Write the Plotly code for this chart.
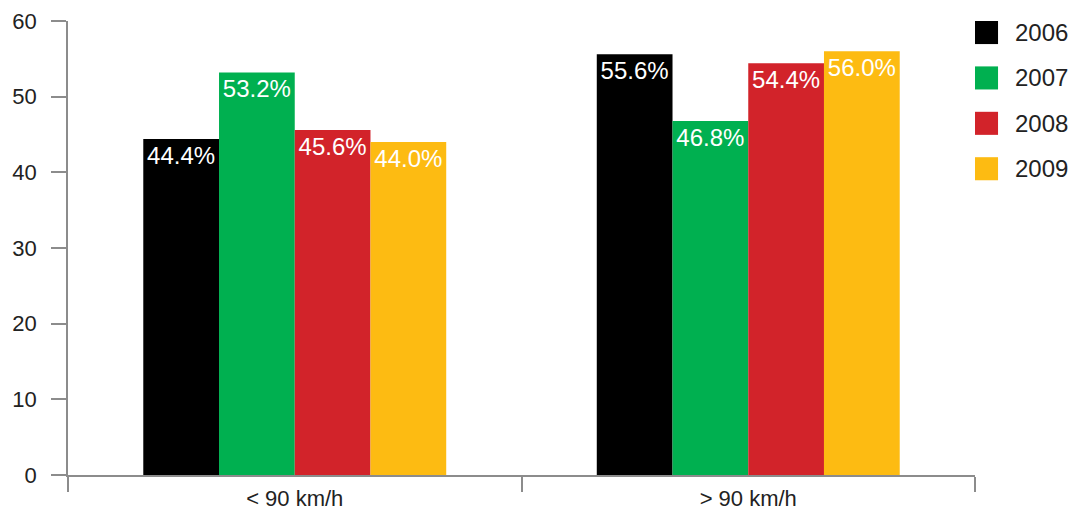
import plotly.graph_objects as go

# Share of trips by speed band, per year
categories = ["< 90 km/h", "> 90 km/h"]
years = ["2006", "2007", "2008", "2009"]
values = {
    "2006": [44.4, 55.6],
    "2007": [53.2, 46.8],
    "2008": [45.6, 54.4],
    "2009": [44.0, 56.0],
}
colors = {
    "2006": "#000000",
    "2007": "#00b050",
    "2008": "#d2232a",
    "2009": "#fdbb12",
}
y_ticks = [0, 10, 20, 30, 40, 50, 60]

FONT = "Liberation Sans"
AXIS = "#8c8c8c"
TEXT = "#222222"

fig = go.Figure()
for yr in years:
    fig.add_trace(go.Bar(
        x=categories,
        y=values[yr],
        name=yr,
        marker=dict(color=colors[yr], line=dict(width=0)),
        text=[f"{v:.1f}%" for v in values[yr]],
        textposition="inside",
        insidetextanchor="end",
        textangle=0,
        insidetextfont=dict(family=FONT, size=24, color="white"),
        showlegend=False,
        cliponaxis=False,
    ))

# Legend drawn as square swatches with labels to the right of the plot
for i, yr in enumerate(years):
    top = 1.0 - i * 0.1
    fig.add_shape(type="rect", xref="paper", yref="paper",
                  x0=1.0, x1=1.0254, y0=top - 0.0508, y1=top,
                  fillcolor=colors[yr], line=dict(width=0))
    fig.add_annotation(xref="paper", yref="paper", x=1.0419, y=top - 0.0254,
                       text=yr, showarrow=False, xanchor="left", yanchor="middle",
                       font=dict(family=FONT, size=24, color=TEXT))

fig.update_layout(
    width=1074, height=513,
    margin=dict(l=68, r=99, t=21, b=38, autoexpand=False),
    paper_bgcolor="white", plot_bgcolor="white",
    barmode="group", bargap=0.332, bargroupgap=0,
    font=dict(family=FONT, color=TEXT),
    uniformtext=dict(mode=False),
)
fig.update_xaxes(
    showline=True, linecolor=AXIS, linewidth=1.5,
    ticks="outside", tickson="boundaries", ticklen=15, tickcolor=AXIS, tickwidth=1.5,
    tickfont=dict(family=FONT, size=22, color=TEXT),
    ticklabelstandoff=3, automargin=False,
    showgrid=False, zeroline=False,
)
fig.update_yaxes(
    range=[0, 60], tickvals=y_ticks,
    showline=True, linecolor=AXIS, linewidth=1.5,
    ticks="outside", ticklen=15, tickcolor=AXIS, tickwidth=1.5,
    tickfont=dict(family=FONT, size=22, color=TEXT),
    ticklabelstandoff=10, automargin=False,
    showgrid=False, zeroline=False,
)

fig.write_html("out.html")
